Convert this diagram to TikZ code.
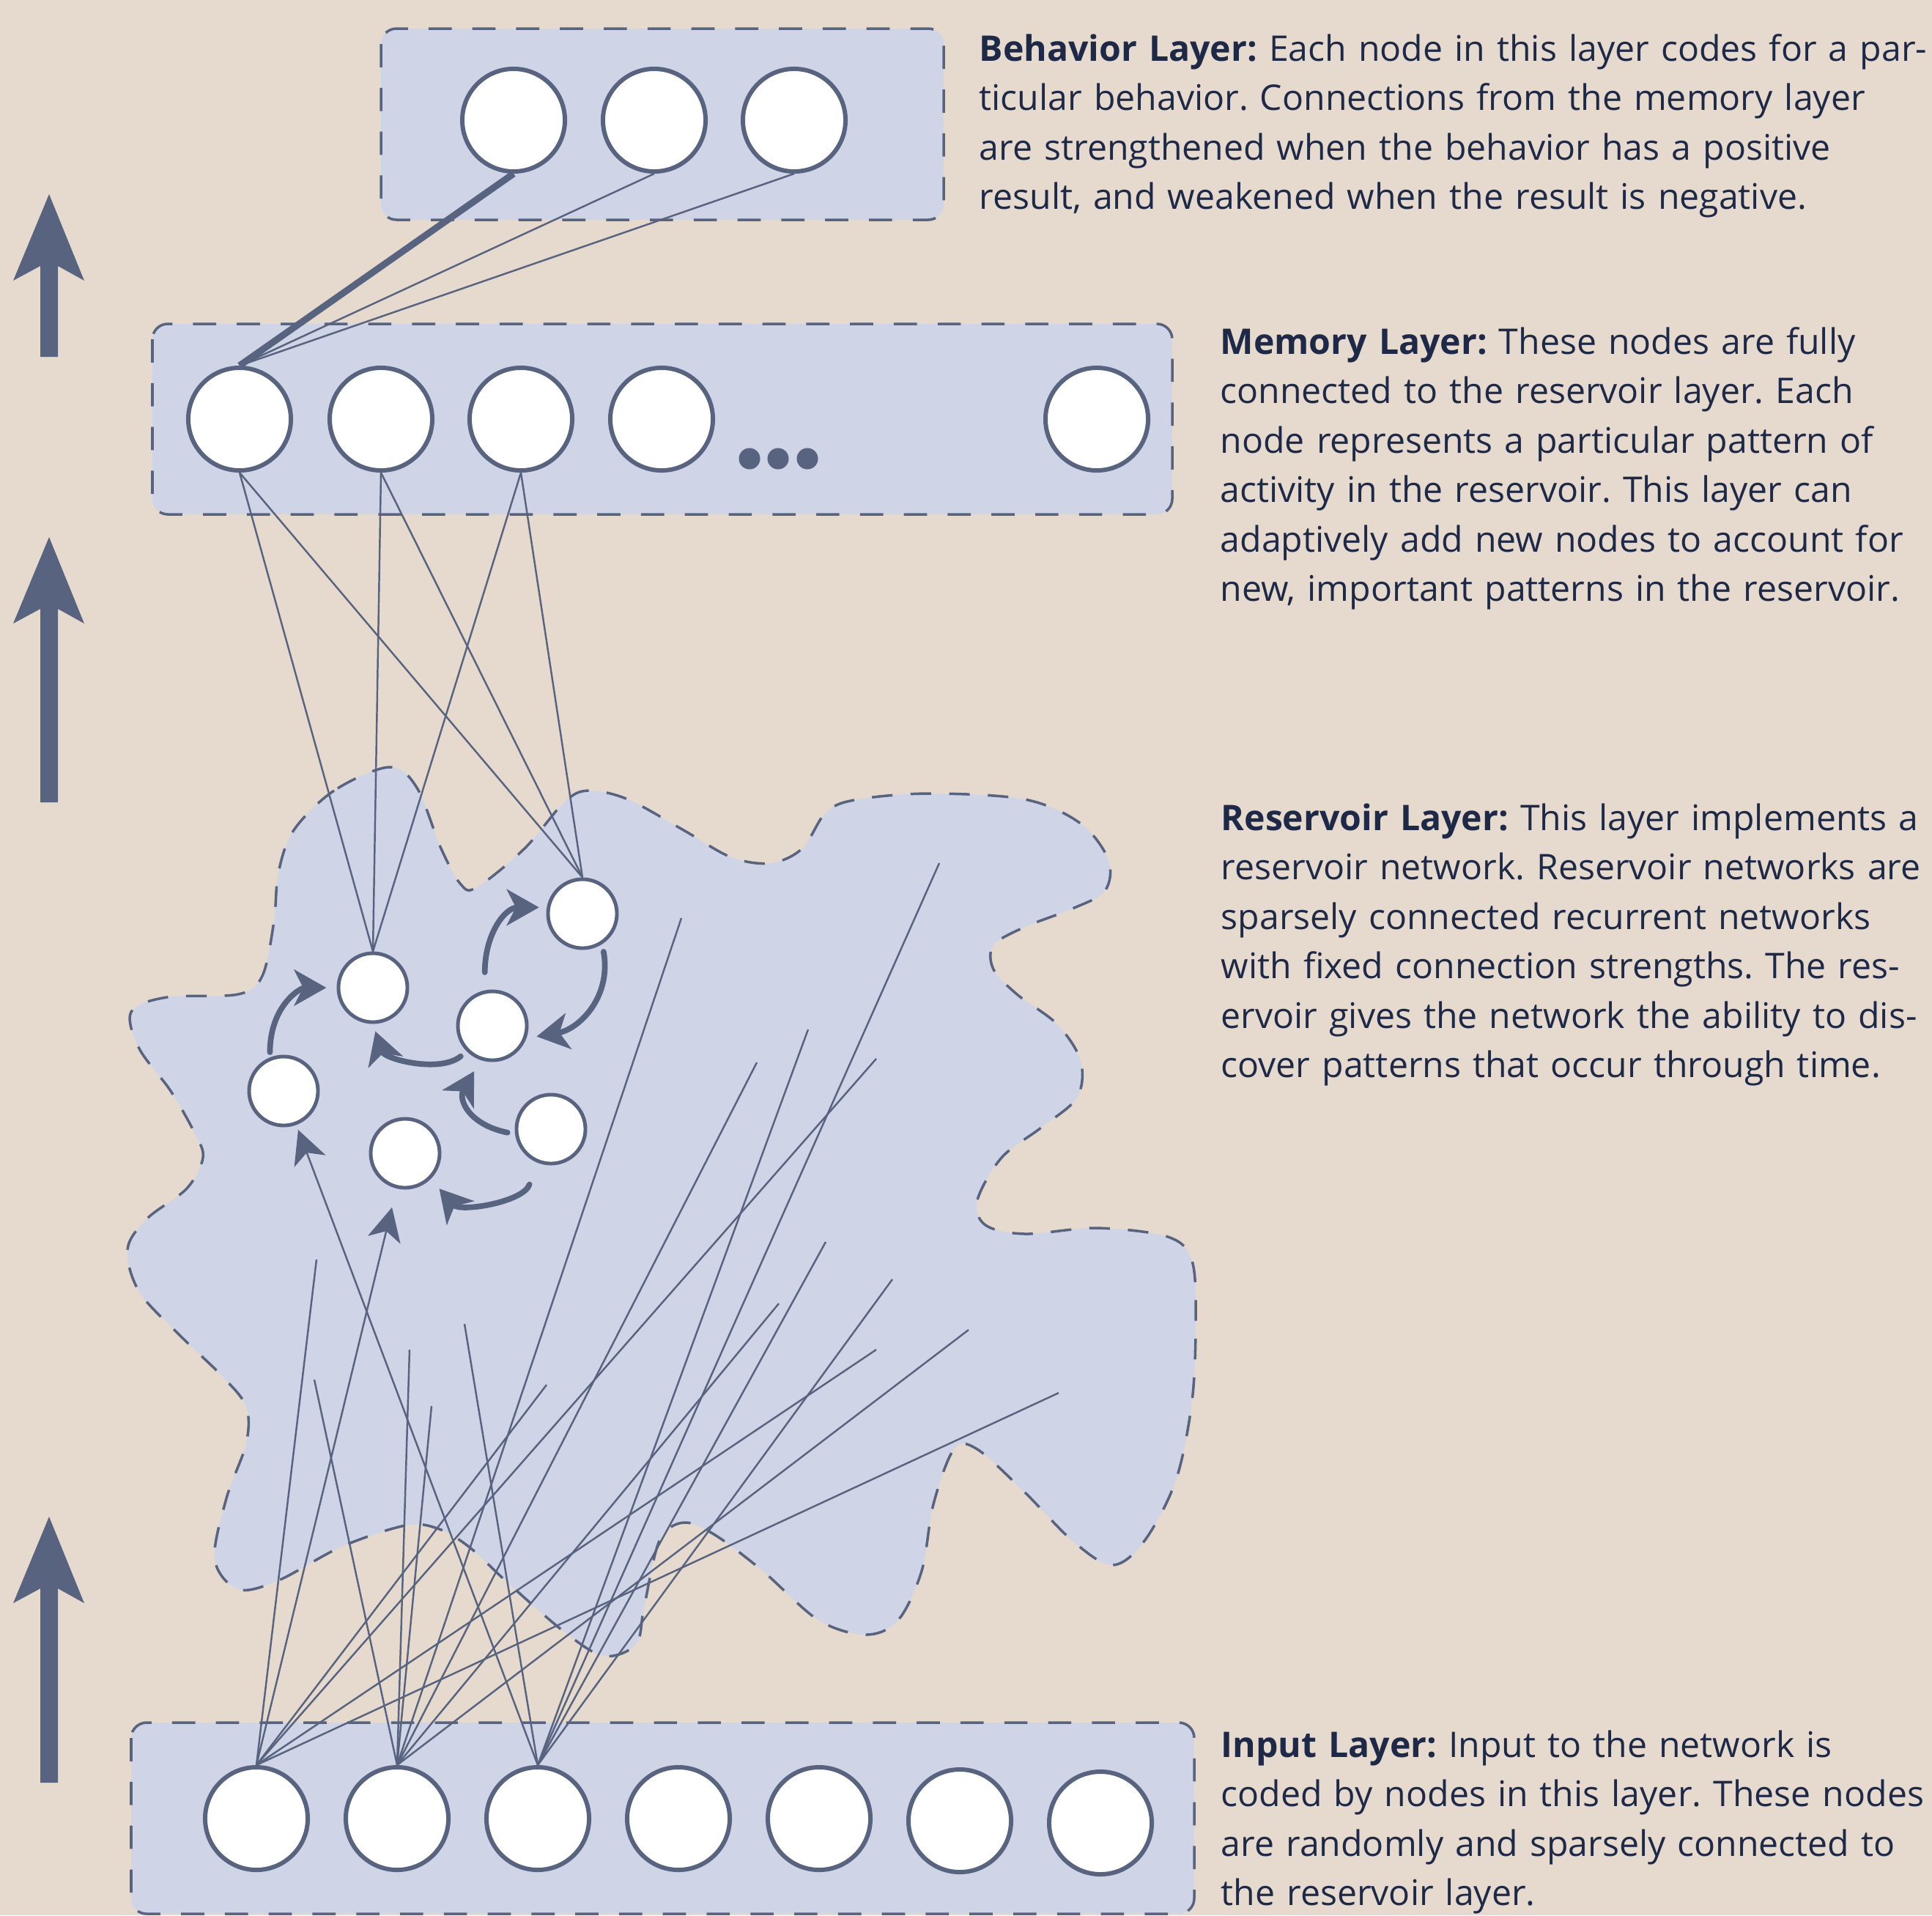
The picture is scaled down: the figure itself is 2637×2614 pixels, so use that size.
\documentclass[tikz,border=0pt]{standalone}
\usepackage{fontspec}
\setmainfont{Open Sans}
\usetikzlibrary{arrows.meta}
\definecolor{bg}{RGB}{230,218,206}
\definecolor{fillc}{RGB}{207,212,230}
\definecolor{linec}{RGB}{88,99,128}
\definecolor{textc}{RGB}{30,41,72}
\frenchspacing
\begin{document}
\begin{tikzpicture}[x=0.01cm,y=-0.01cm,
  bignode/.style={circle,draw=linec,fill=white,line width=1.7pt,minimum size=1.4cm,inner sep=0pt},
  resnode/.style={circle,draw=linec,fill=white,line width=1.4pt,minimum size=0.94cm,inner sep=0pt},
  dotnode/.style={circle,fill=linec,minimum size=0.29cm,inner sep=0pt},
  layerbox/.style={draw=linec,fill=fillc,line width=1pt,dash pattern=on 9pt off 8pt,rounded corners=6pt},
  blobstyle/.style={draw=linec,fill=fillc,line width=1pt,dash pattern=on 8pt off 7pt},
  conn/.style={draw=linec,line width=0.7pt},
  strongconn/.style={draw=linec,line width=2.6pt},
  recur/.style={draw=linec,line width=2.2pt,line cap=round,-{Stealth[length=12.5pt,width=14pt,inset=3.5pt]}},
  inarrow/.style={draw=linec,line width=0.7pt,-{Stealth[length=13pt,width=13pt,inset=3.5pt]}},
  bigarrow/.style={fill=linec},
  txt/.style={text=textc,font=\fontsize{13.7pt}{19.2pt}\selectfont,align=left,inner sep=0pt,text width=13cm}
]
\useasboundingbox (0,0) rectangle (2637,2614);
\fill[bg] (0,0) rectangle (2637,2614);

% big upward arrows
\foreach \t/\b in {265/487, 733/1095, 2070/2433}{
  \fill[bigarrow] (67,\t) -- (115,\t+118) -- (79,\t+98) -- (79,\b) -- (55,\b) -- (55,\t+98) -- (18,\t+118) -- cycle;
}

% layer boxes
\draw[layerbox] (520,39) rectangle (1288,300);
\draw[layerbox] (208,442) rectangle (1600,702);
\draw[layerbox] (179,2351) rectangle (1630,2612);

% reservoir blob
\draw[blobstyle] plot[smooth cycle, tension=0.55] coordinates {
(531,1047) (456,1079) (401,1133) (380,1191) (374,1257) (358,1332) (325,1357) (228,1361)
(179,1381) (190,1431) (233,1489) (266,1547) (277,1580) (255,1622) (201,1663) (174,1705)
(190,1763) (244,1821) (304,1879) (336,1920) (336,1970) (309,2045) (293,2128) (325,2169)
(380,2157) (466,2111) (553,2082) (597,2086) (640,2111) (694,2161) (770,2227) (824,2260)
(868,2244) (879,2194) (900,2103) (933,2078) (976,2095) (1041,2144) (1117,2211) (1182,2231)
(1226,2211) (1258,2144) (1274,2053) (1302,1978) (1334,1978) (1399,2037) (1464,2103) (1518,2136)
(1562,2103) (1605,2020) (1627,1912) (1632,1804) (1627,1721) (1594,1688) (1497,1676) (1399,1684)
(1345,1672) (1334,1638) (1367,1580) (1421,1539) (1470,1498) (1475,1448) (1443,1398) (1388,1357)
(1356,1323) (1356,1290) (1399,1265) (1464,1240) (1508,1216) (1513,1174) (1475,1124) (1399,1091)
(1269,1083) (1171,1091) (1128,1108) (1095,1158) (1052,1178) (998,1170) (933,1133) (857,1091)
(803,1079) (770,1095) (716,1158) (651,1211) (629,1207) (602,1158) (569,1075)};

% behavior nodes
\node[bignode] (B1) at (701,164) {};
\node[bignode] (B2) at (893,164) {};
\node[bignode] (B3) at (1084,164) {};
% memory nodes
\node[bignode] (M1) at (327,572) {};
\node[bignode] (M2) at (520,572) {};
\node[bignode] (M3) at (711,572) {};
\node[bignode] (M4) at (903,572) {};
\node[bignode] (M5) at (1497,572) {};
\node[dotnode] (D1) at (1023,626) {};
\node[dotnode] (D2) at (1062,626) {};
\node[dotnode] (D3) at (1102,626) {};
% input nodes
\node[bignode] (I1) at (350,2482) {};
\node[bignode] (I2) at (542,2482) {};
\node[bignode] (I3) at (734,2482) {};
\node[bignode] (I4) at (926,2482) {};
\node[bignode] (I5) at (1118,2482) {};
\node[bignode] (I6) at (1310,2485) {};
\node[bignode] (I7) at (1502,2488) {};
% reservoir nodes
\node[resnode] (R1) at (509,1348) {};
\node[resnode] (R2) at (795,1247) {};
\node[resnode] (R3) at (672,1400) {};
\node[resnode] (R4) at (387,1489) {};
\node[resnode] (R5) at (752,1541) {};
\node[resnode] (R6) at (553,1574) {};

% behavior -> memory
\draw[strongconn] (B1.south) -- (M1.north);
\draw[conn] (B2.south) -- (M1.north);
\draw[conn] (B3.south) -- (M1.north);

% memory -> reservoir
\foreach \m in {M1,M2,M3}{
  \draw[conn] (\m.south) -- (R1.north);
  \draw[conn] (\m.south) -- (R2.north);
}

% free ends of input connections
\coordinate (e1) at (432,1719);
\coordinate (e2) at (429,1883);
\coordinate (e3) at (559,1842);
\coordinate (e4) at (589,1919);
\coordinate (e5) at (634,1807);
\coordinate (e6) at (746,1890);
\coordinate (e7) at (930,1253);
\coordinate (e8) at (1063,1779);
\coordinate (e9) at (1033,1450);
\coordinate (e10) at (1103,1405);
\coordinate (e11) at (1196,1445);
\coordinate (e12) at (1127,1695);
\coordinate (e13) at (1218,1746);
\coordinate (e14) at (1196,1842);
\coordinate (e15) at (1282,1178);
\coordinate (e16) at (1322,1815);
\coordinate (e17) at (1445,1901);

\foreach \e in {e1,e6,e11,e14,e17}{\draw[conn] (I1.north) -- (\e);}
\foreach \e in {e2,e3,e4,e7,e8,e9,e16}{\draw[conn] (I2.north) -- (\e);}
\foreach \e in {e5,e10,e12,e13,e15}{\draw[conn] (I3.north) -- (\e);}
\draw[inarrow,shorten >=7.5pt] (I1.north) -- (R6);
\draw[inarrow,shorten >=2pt] (I3.north) -- (R4);

% recurrent connections
\draw[recur,shorten <=2pt,shorten >=4pt] (R4.112) .. controls +(0,-70) and +(-50,0) .. (R1.180);
\draw[recur,shorten <=7pt,shorten >=3pt] (R3.102) .. controls +(0,-77) and +(-57,0) .. (R2.170);
\draw[recur,shorten <=3pt,shorten >=4pt] (R2.-57) .. controls +(13,72) and +(72,-12) .. (R3.-20);
\draw[recur,shorten <=3pt,shorten >=3pt] (R3.225) .. controls +(-37,30) and +(16,48) .. (R1.south);
\draw[recur,shorten <=3pt,shorten >=5pt] (R5.188) .. controls +(-63,-13) and +(-31,54) .. (R3.251);
\draw[recur,shorten <=9pt,shorten >=5pt] (R5.247) .. controls +(-18,54) and +(40,46) .. (R6.-45);

% texts
\node[txt,anchor=base west] (tb) at (1336,83) {\textbf{Behavior Layer:} Each node in this layer codes for a par-\\
ticular behavior. Connections from the memory layer\\
are strengthened when the behavior has a positive\\
result, and weakened when the result is negative.};
\node[txt,anchor=base west] (tm) at (1665,483) {\textbf{Memory Layer:} These nodes are fully\\
connected to the reservoir layer. Each\\
node represents a particular pattern of\\
activity in the reservoir. This layer can\\
adaptively add new nodes to account for\\
new, important patterns in the reservoir.};
\node[txt,anchor=base west] (tr) at (1666,1133) {\textbf{Reservoir Layer:} This layer implements a\\
reservoir network. Reservoir networks are\\
sparsely connected recurrent networks\\
with fixed connection strengths. The res-\\
ervoir gives the network the ability to dis-\\
cover patterns that occur through time.};
\node[txt,anchor=base west] (ti) at (1666,2398) {\textbf{Input Layer:} Input to the network is\\
coded by nodes in this layer. These nodes\\
are randomly and sparsely connected to\\
the reservoir layer.};
\end{tikzpicture}
\end{document}
